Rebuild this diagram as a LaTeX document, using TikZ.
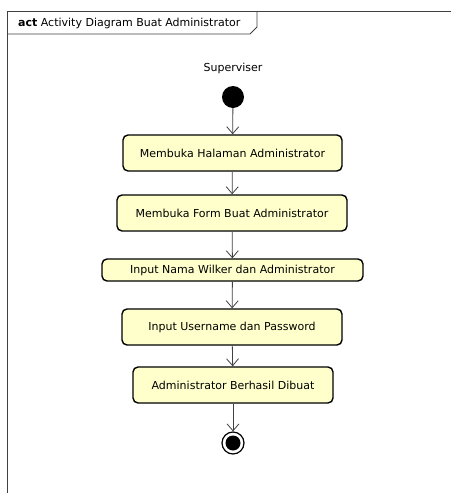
\documentclass[tikz,border=0pt]{standalone}
\usepackage{fontspec}
\setmainfont{DejaVu Sans}
\usetikzlibrary{arrows.meta}
\definecolor{actfill}{RGB}{255,255,204}
\begin{document}
\begin{tikzpicture}[x=1pt,y=-1pt,
  act/.style={draw=black,fill=actfill,line width=1.4pt,rounded corners=5pt,inner sep=0pt,font=\fontsize{11}{12}\selectfont},
  flow/.style={draw=black!75,line width=0.8pt,-{Straight Barb[length=7pt,width=12pt,line width=0.8pt]}},
  frameline/.style={draw=black!75,line width=0.8pt}]
\useasboundingbox (0,0) rectangle (451,493);
% frame
\draw[frameline] (451,11) -- (7,11) -- (7,493);
\draw[frameline] (7,34) -- (250,34) -- (257,27) -- (257,11);
\node[anchor=west,font=\fontsize{11}{12}\selectfont,inner sep=0pt] (title) at (18,23) {\textbf{act} Activity Diagram Buat Administrator};
% swimlane label
\node[font=\fontsize{11}{12}\selectfont,inner sep=0pt] (lane) at (233,68) {Superviser};
% nodes
\node[circle,fill=black,minimum size=22pt,inner sep=0pt] (start) at (233,97) {};
\node[act,minimum width=219pt,minimum height=36pt] (a1) at (232.5,153) {Membuka Halaman Administrator};
\node[act,minimum width=230pt,minimum height=36pt] (a2) at (232,213) {Membuka Form Buat Administrator};
\node[act,minimum width=261pt,minimum height=22pt] (a3) at (232.5,270) {Input Nama Wilker dan Administrator};
\node[act,minimum width=220pt,minimum height=36pt] (a4) at (232,327) {Input Username dan Password};
\node[act,minimum width=200pt,minimum height=36pt] (a5) at (233,385) {Administrator Berhasil Dibuat};
\node[circle,draw=black,line width=1.2pt,fill=white,minimum size=22pt,inner sep=0pt] (end) at (233,443) {};
\node[circle,fill=black,minimum size=15pt,inner sep=0pt] (endin) at (end) {};
% flows
\draw[flow] (start) -- (a1);
\draw[flow] (a1) -- (a2);
\draw[flow] (a2) -- (a3);
\draw[flow] (a3) -- (a4);
\draw[flow] (a4) -- (a5);
\draw[flow] (a5) -- (end);
\end{tikzpicture}
\end{document}
